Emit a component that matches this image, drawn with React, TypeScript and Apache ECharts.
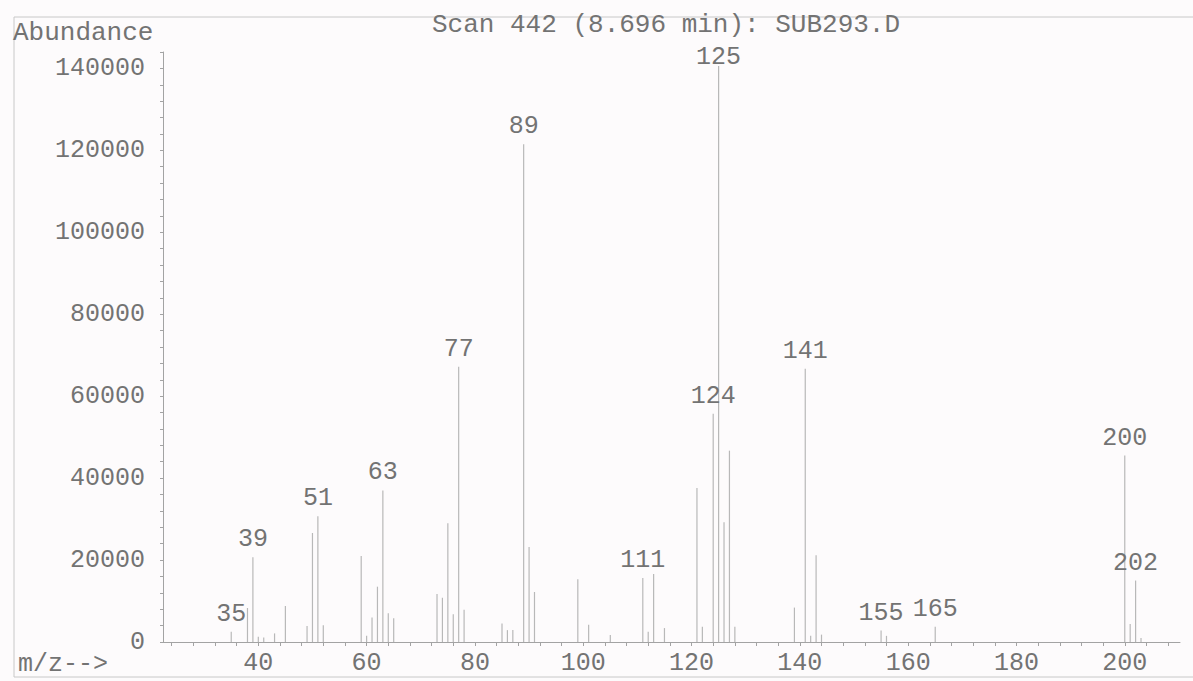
import React, { useEffect, useRef } from "react";
import * as echarts from "echarts";

// Mass spectrum, scan 442 (8.696 min) of SUB293.D
const mzValues: number[] = [
  35, 38, 39, 40, 41, 43, 45, 49, 50, 51, 52, 59, 60, 61, 62, 63, 64, 65,
  73, 74, 75, 76, 77, 78, 85, 86, 87, 89, 90, 91, 99, 101, 105,
  111, 112, 113, 115, 121, 122, 124, 125, 126, 127, 128,
  139, 141, 142, 143, 144, 155, 156, 165, 200, 201, 202, 203,
];
const abundanceValues: number[] = [
  2500, 8300, 20700, 1300, 1100, 2100, 8800, 3900, 26600, 30700, 4100, 21000, 1500, 6000, 13500, 37000, 7000, 5800,
  11700, 10800, 29000, 6800, 67200, 7900, 4500, 2900, 2900, 121500, 23200, 12200, 15300, 4200, 1700,
  15600, 2500, 16600, 3400, 37600, 3700, 55700, 140600, 29200, 46700, 3700,
  8400, 66700, 1500, 21200, 1800, 2800, 1500, 3700, 45500, 4400, 15000, 1000,
];
// Peaks annotated with their m/z
const labeledPeaks: number[] = [35, 39, 51, 63, 77, 89, 111, 124, 125, 141, 155, 165, 200, 202];

const yLabelValues: number[] = [0, 20000, 40000, 60000, 80000, 100000, 120000, 140000];
const xLabelValues: number[] = [40, 60, 80, 100, 120, 140, 160, 180, 200];

const titleText = "Scan 442 (8.696 min): SUB293.D";
const yAxisTitle = "Abundance";
const xAxisTitle = "m/z-->";

const FONT = '"Liberation Mono", "DejaVu Sans Mono", monospace';
const TEXT_COLOR = "#737373";
const LINE_COLOR = "#b8b8b8";
const AXIS_COLOR = "#a3a3a3";

function stepValues(from: number, to: number, step: number): number[] {
  const out: number[] = [];
  for (let v = from; v <= to + 1e-9; v += step) out.push(v);
  return out;
}

export default function App() {
  const ref = useRef<HTMLDivElement>(null);

  useEffect(() => {
    if (!ref.current) return;
    const chart = echarts.init(ref.current, undefined, { renderer: "svg" });

    const data = mzValues.map((m, i) => {
      const labeled = labeledPeaks.includes(m);
      return {
        value: [m, abundanceValues[i]],
        label: labeled
          ? { show: true, offset: m === 125 ? [0, 9] : [0, 0] }
          : { show: false },
      };
    });

    chart.setOption({
      animation: false,
      backgroundColor: "#fdfbfc",
      grid: { left: 163, right: 13, top: 52, bottom: 39, containLabel: false },
      xAxis: {
        type: "value",
        min: 22.4,
        max: 210.2,
        axisLine: { show: true, lineStyle: { color: AXIS_COLOR, width: 1 } },
        axisTick: {
          show: true,
          length: 4,
          lineStyle: { color: AXIS_COLOR },
          customValues: stepValues(24, 208, 4),
        },
        axisLabel: {
          customValues: xLabelValues,
          color: TEXT_COLOR,
          fontFamily: FONT,
          fontSize: 25,
          margin: 9,
          formatter: (v: number) => String(v),
        },
        splitLine: { show: false },
      },
      yAxis: {
        type: "value",
        min: 0,
        max: 144000,
        axisLine: { show: true, lineStyle: { color: AXIS_COLOR, width: 1 } },
        axisTick: {
          show: true,
          length: 3,
          lineStyle: { color: AXIS_COLOR },
          customValues: stepValues(0, 144000, 4000),
        },
        axisLabel: {
          customValues: yLabelValues,
          color: TEXT_COLOR,
          fontFamily: FONT,
          fontSize: 25,
          margin: 18,
          formatter: (v: number) => String(v),
        },
        splitLine: { show: false },
      },
      series: [
        {
          type: "bar",
          barWidth: 1.2,
          itemStyle: { color: LINE_COLOR },
          label: {
            position: "top",
            distance: 5,
            formatter: (p: any) => String(p.value[0]),
            color: TEXT_COLOR,
            fontFamily: FONT,
            fontSize: 25,
          },
          data,
        },
      ],
      graphic: [
        {
          type: "rect",
          shape: { x: 14, y: 17, width: 1240, height: 660 },
          style: { fill: "none", stroke: "#c8c8c8", lineWidth: 1 },
          silent: true,
        },
        {
          type: "text",
          x: 13,
          y: 33,
          style: {
            text: yAxisTitle,
            font: `26px ${FONT}`,
            fill: TEXT_COLOR,
            verticalAlign: "middle",
          },
        },
        {
          type: "text",
          x: 432,
          y: 25,
          style: {
            text: titleText,
            font: `26px ${FONT}`,
            fill: TEXT_COLOR,
            verticalAlign: "middle",
          },
        },
        {
          type: "text",
          x: 18,
          y: 664,
          style: {
            text: xAxisTitle,
            font: `25px ${FONT}`,
            fill: TEXT_COLOR,
            verticalAlign: "middle",
          },
        },
      ],
    });

    return () => chart.dispose();
  }, []);

  return (
    <div
      ref={ref}
      style={{ position: "fixed", left: 0, top: 0, width: 1193, height: 681 }}
    />
  );
}
